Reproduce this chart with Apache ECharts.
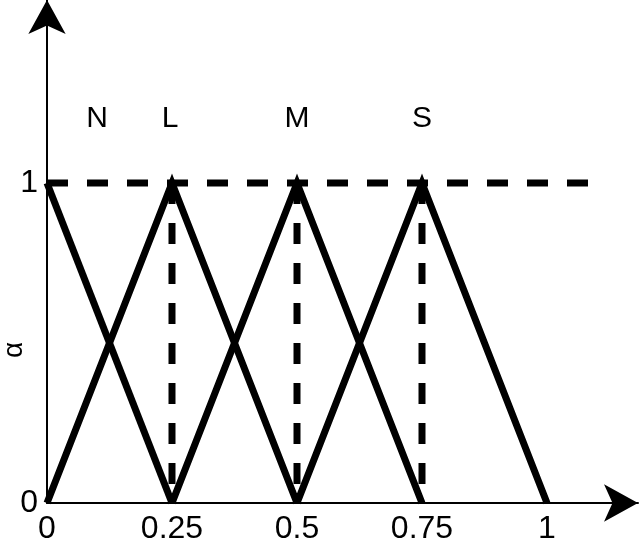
<!DOCTYPE html>
<html>
<head>
<meta charset="utf-8">
<script src="https://cdn.jsdelivr.net/npm/echarts@6/dist/echarts.min.js"></script>
<style>
  html, body { margin: 0; padding: 0; background: #fff; }
  #main { width: 640px; height: 546px; }
</style>
</head>
<body>
<div id="main"></div>
<script>
// membership functions (alpha vs x)
var setN = [[0, 1], [0.25, 0]];
var setL = [[0, 0], [0.25, 1], [0.5, 0]];
var setM = [[0.25, 0], [0.5, 1], [0.75, 0]];
var setS = [[0.5, 0], [0.75, 1], [1, 0]];

// dashed guide lines
var guideTop = [[0, 1], [1.09, 1]];
var guidePeaks = [0.25, 0.5, 0.75];

// set names above the peaks
var setNames = ['N', 'L', 'M', 'S'];
var nameX = [0.1, 0.246, 0.5, 0.75];
var nameY = 1.2;

var xTicks = [0, 0.25, 0.5, 0.75, 1];
var yTicks = [0, 1];
var yTitle = 'α';

var font = 'Liberation Sans, Arial, sans-serif';

function solid(data) {
    return {
        type: 'line',
        data: data,
        symbol: 'none',
        silent: true,
        lineStyle: { color: '#000', width: 7, join: 'miter', cap: 'butt' },
        z: 3
    };
}

function dashed(data) {
    return {
        type: 'line',
        data: data,
        symbol: 'none',
        silent: true,
        lineStyle: { color: '#000', width: 7, type: [21, 19], cap: 'butt' },
        z: 2
    };
}

var series = [dashed(guideTop)];
guidePeaks.forEach(function (x) {
    series.push(dashed([[x, 1], [x, 0]]));
});
series.push(solid(setN), solid(setL), solid(setM), solid(setS));

series.push({
    type: 'scatter',
    symbolSize: 0,
    silent: true,
    itemStyle: { opacity: 1 },
    data: setNames.map(function (n, i) {
        return { name: n, value: [nameX[i], nameY] };
    }),
    label: {
        show: true,
        position: 'inside',
        formatter: '{b}',
        color: '#000',
        fontSize: 30,
        fontFamily: font
    }
});

var chart = echarts.init(document.getElementById('main'));

var option = {
    animation: false,
    grid: { left: 47, right: 2, top: 0, bottom: 43, containLabel: false, outerBoundsMode: 'none' },
    graphic: [{
        type: 'text',
        x: 14,
        y: 350,
        rotation: Math.PI / 2,
        style: {
            text: yTitle,
            fill: '#000',
            font: '28px ' + font,
            align: 'center',
            verticalAlign: 'middle'
        }
    }],
    xAxis: {
        type: 'value',
        min: 0,
        max: 1.182,
        interval: 0.25,
        splitLine: { show: false },
        axisTick: { show: false },
        axisLine: {
            onZero: false,
            lineStyle: { color: '#000', width: 2 },
            symbol: ['none', 'arrow'],
            symbolSize: [28, 34]
        },
        axisLabel: {
            color: '#000',
            fontSize: 32,
            fontFamily: font,
            margin: 10,
            showMaxLabel: false,
            formatter: function (v) {
                return xTicks.indexOf(v) >= 0 ? String(v) : '';
            }
        }
    },
    yAxis: {
        type: 'value',
        min: 0,
        max: 1.572,
        interval: 1,
        splitLine: { show: false },
        axisTick: { show: false },
        axisLine: {
            onZero: false,
            lineStyle: { color: '#000', width: 2 },
            symbol: ['none', 'arrow'],
            symbolSize: [28, 34]
        },
        axisLabel: {
            color: '#000',
            fontSize: 32,
            fontFamily: font,
            margin: 9,
            showMaxLabel: false,
            formatter: function (v) {
                return yTicks.indexOf(v) >= 0 ? String(v) : '';
            }
        }
    },
    series: series
};

chart.setOption(option);
window.onresize = chart.resize;
</script>
</body>
</html>
